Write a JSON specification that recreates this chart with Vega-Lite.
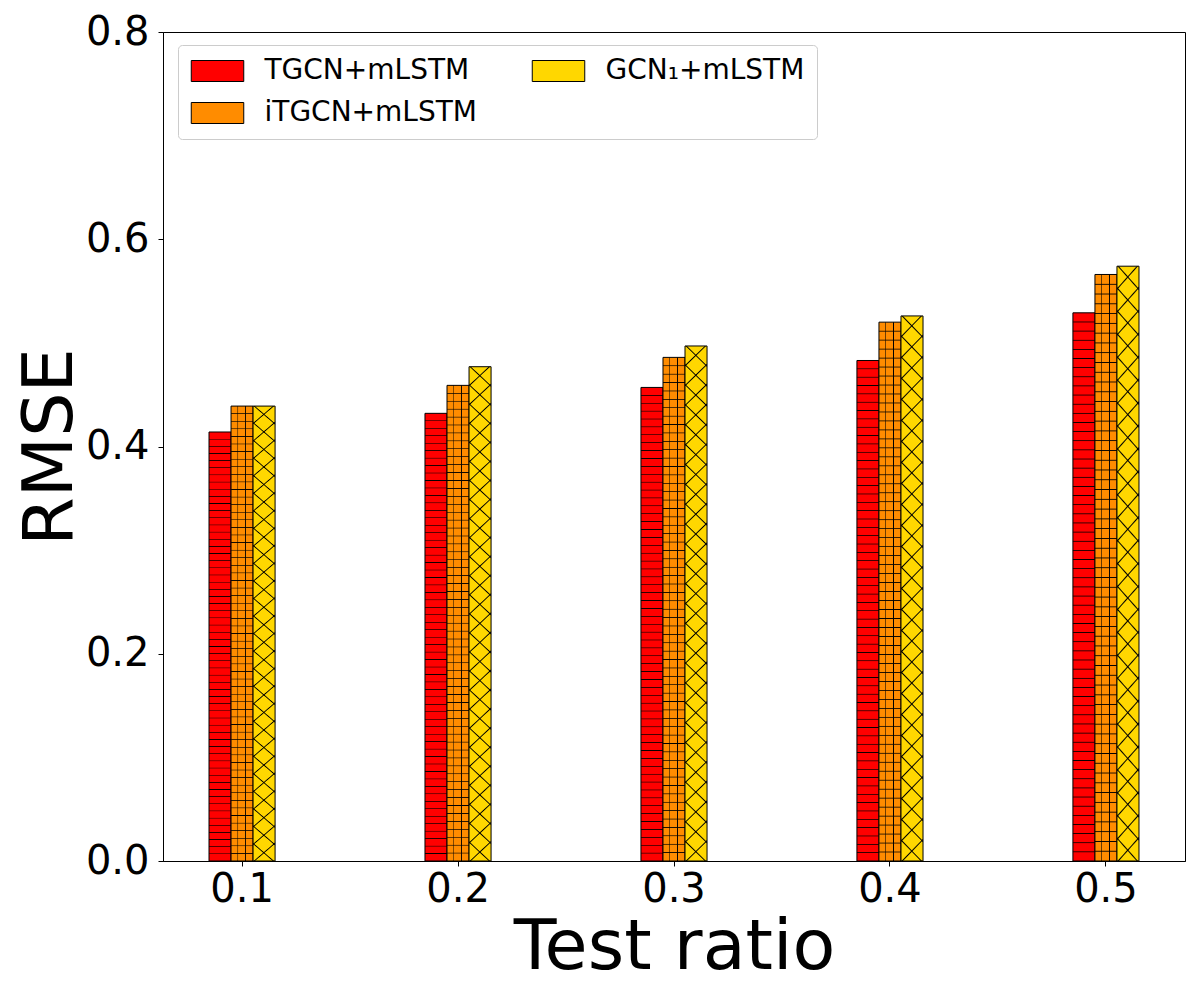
{
  "$schema": "https://vega.github.io/schema/vega-lite/v6.json",
  "width": 1022,
  "height": 829,
  "autosize": {"type": "none"},
  "padding": {"left": 163, "top": 32, "right": 15, "bottom": 139},
  "background": "white",
  "data": {
    "values": [
      {"ratio": "0.1", "model": "TGCN+mLSTM", "rmse": 0.414},
      {"ratio": "0.1", "model": "iTGCN+mLSTM", "rmse": 0.439},
      {"ratio": "0.1", "model": "GCN₁+mLSTM", "rmse": 0.439},
      {"ratio": "0.2", "model": "TGCN+mLSTM", "rmse": 0.432},
      {"ratio": "0.2", "model": "iTGCN+mLSTM", "rmse": 0.459},
      {"ratio": "0.2", "model": "GCN₁+mLSTM", "rmse": 0.477},
      {"ratio": "0.3", "model": "TGCN+mLSTM", "rmse": 0.457},
      {"ratio": "0.3", "model": "iTGCN+mLSTM", "rmse": 0.486},
      {"ratio": "0.3", "model": "GCN₁+mLSTM", "rmse": 0.497},
      {"ratio": "0.4", "model": "TGCN+mLSTM", "rmse": 0.483},
      {"ratio": "0.4", "model": "iTGCN+mLSTM", "rmse": 0.520},
      {"ratio": "0.4", "model": "GCN₁+mLSTM", "rmse": 0.526},
      {"ratio": "0.5", "model": "TGCN+mLSTM", "rmse": 0.529},
      {"ratio": "0.5", "model": "iTGCN+mLSTM", "rmse": 0.566},
      {"ratio": "0.5", "model": "GCN₁+mLSTM", "rmse": 0.574}
    ]
  },
  "encoding": {
    "x": {
      "field": "ratio",
      "type": "ordinal",
      "title": "Test ratio",
      "scale": {"paddingInner": 0.694, "paddingOuter": 0.213},
      "axis": {"labelAngle": 0, "titlePadding": 4, "labelPadding": 3}
    },
    "xOffset": {
      "field": "model",
      "type": "nominal",
      "scale": {"domain": ["TGCN+mLSTM", "iTGCN+mLSTM", "GCN₁+mLSTM"], "paddingInner": 0, "paddingOuter": 0}
    },
    "y": {
      "field": "rmse",
      "type": "quantitative",
      "title": "RMSE",
      "scale": {"domain": [0, 0.8]},
      "axis": {"values": [0, 0.2, 0.4, 0.6, 0.8], "format": ".1f", "titlePadding": -1, "labelPadding": 9}
    }
  },
  "layer": [
    {
      "mark": {"type": "bar", "stroke": "black", "strokeWidth": 1, "opacity": 1},
      "encoding": {
        "color": {
          "field": "model",
          "type": "nominal",
          "scale": {
            "domain": ["TGCN+mLSTM", "iTGCN+mLSTM", "GCN₁+mLSTM"],
            "range": ["#ff0000", "#ff8c00", "#ffd700"]
          },
          "legend": {
            "title": null,
            "orient": "none",
            "legendX": 15,
            "legendY": 13,
            "columns": 2,
            "columnPadding": 53,
            "rowPadding": 14,
            "padding": 12,
            "labelFontSize": 28,
            "labelOffset": 33,
            "symbolOffset": 13.5,
            "symbolType": "M-2.5,-1H2.5V1H-2.5Z",
            "symbolSize": 441,
            "symbolStrokeColor": "black",
            "symbolStrokeWidth": 1,
            "symbolOpacity": 1,
            "fillColor": "white",
            "strokeColor": "#cccccc",
            "cornerRadius": 4
          }
        }
      }
    },
    {
      "transform": [{"filter": "datum.model != 'GCN₁+mLSTM'"}],
      "mark": {
        "type": "bar",
        "strokeWidth": 0,
        "fill": {
          "gradient": "linear", "x1": 0, "y1": 0, "x2": 0, "y2": 1,
          "stops": [
            {"offset": 0.0152, "color": "transparent"}, {"offset": 0.0167, "color": "black"}, {"offset": 0.0182, "color": "transparent"},
            {"offset": 0.0318, "color": "transparent"}, {"offset": 0.0333, "color": "black"}, {"offset": 0.0348, "color": "transparent"},
            {"offset": 0.0485, "color": "transparent"}, {"offset": 0.05, "color": "black"}, {"offset": 0.0515, "color": "transparent"},
            {"offset": 0.0652, "color": "transparent"}, {"offset": 0.0667, "color": "black"}, {"offset": 0.0682, "color": "transparent"},
            {"offset": 0.0818, "color": "transparent"}, {"offset": 0.0833, "color": "black"}, {"offset": 0.0848, "color": "transparent"},
            {"offset": 0.0985, "color": "transparent"}, {"offset": 0.1, "color": "black"}, {"offset": 0.1015, "color": "transparent"},
            {"offset": 0.1152, "color": "transparent"}, {"offset": 0.1167, "color": "black"}, {"offset": 0.1182, "color": "transparent"},
            {"offset": 0.1318, "color": "transparent"}, {"offset": 0.1333, "color": "black"}, {"offset": 0.1348, "color": "transparent"},
            {"offset": 0.1485, "color": "transparent"}, {"offset": 0.15, "color": "black"}, {"offset": 0.1515, "color": "transparent"},
            {"offset": 0.1652, "color": "transparent"}, {"offset": 0.1667, "color": "black"}, {"offset": 0.1682, "color": "transparent"},
            {"offset": 0.1818, "color": "transparent"}, {"offset": 0.1833, "color": "black"}, {"offset": 0.1848, "color": "transparent"},
            {"offset": 0.1985, "color": "transparent"}, {"offset": 0.2, "color": "black"}, {"offset": 0.2015, "color": "transparent"},
            {"offset": 0.2152, "color": "transparent"}, {"offset": 0.2167, "color": "black"}, {"offset": 0.2182, "color": "transparent"},
            {"offset": 0.2318, "color": "transparent"}, {"offset": 0.2333, "color": "black"}, {"offset": 0.2348, "color": "transparent"},
            {"offset": 0.2485, "color": "transparent"}, {"offset": 0.25, "color": "black"}, {"offset": 0.2515, "color": "transparent"},
            {"offset": 0.2652, "color": "transparent"}, {"offset": 0.2667, "color": "black"}, {"offset": 0.2682, "color": "transparent"},
            {"offset": 0.2818, "color": "transparent"}, {"offset": 0.2833, "color": "black"}, {"offset": 0.2848, "color": "transparent"},
            {"offset": 0.2985, "color": "transparent"}, {"offset": 0.3, "color": "black"}, {"offset": 0.3015, "color": "transparent"},
            {"offset": 0.3152, "color": "transparent"}, {"offset": 0.3167, "color": "black"}, {"offset": 0.3182, "color": "transparent"},
            {"offset": 0.3318, "color": "transparent"}, {"offset": 0.3333, "color": "black"}, {"offset": 0.3348, "color": "transparent"},
            {"offset": 0.3485, "color": "transparent"}, {"offset": 0.35, "color": "black"}, {"offset": 0.3515, "color": "transparent"},
            {"offset": 0.3652, "color": "transparent"}, {"offset": 0.3667, "color": "black"}, {"offset": 0.3682, "color": "transparent"},
            {"offset": 0.3818, "color": "transparent"}, {"offset": 0.3833, "color": "black"}, {"offset": 0.3848, "color": "transparent"},
            {"offset": 0.3985, "color": "transparent"}, {"offset": 0.4, "color": "black"}, {"offset": 0.4015, "color": "transparent"},
            {"offset": 0.4152, "color": "transparent"}, {"offset": 0.4167, "color": "black"}, {"offset": 0.4182, "color": "transparent"},
            {"offset": 0.4318, "color": "transparent"}, {"offset": 0.4333, "color": "black"}, {"offset": 0.4348, "color": "transparent"},
            {"offset": 0.4485, "color": "transparent"}, {"offset": 0.45, "color": "black"}, {"offset": 0.4515, "color": "transparent"},
            {"offset": 0.4652, "color": "transparent"}, {"offset": 0.4667, "color": "black"}, {"offset": 0.4682, "color": "transparent"},
            {"offset": 0.4818, "color": "transparent"}, {"offset": 0.4833, "color": "black"}, {"offset": 0.4848, "color": "transparent"},
            {"offset": 0.4985, "color": "transparent"}, {"offset": 0.5, "color": "black"}, {"offset": 0.5015, "color": "transparent"},
            {"offset": 0.5152, "color": "transparent"}, {"offset": 0.5167, "color": "black"}, {"offset": 0.5182, "color": "transparent"},
            {"offset": 0.5318, "color": "transparent"}, {"offset": 0.5333, "color": "black"}, {"offset": 0.5348, "color": "transparent"},
            {"offset": 0.5485, "color": "transparent"}, {"offset": 0.55, "color": "black"}, {"offset": 0.5515, "color": "transparent"},
            {"offset": 0.5652, "color": "transparent"}, {"offset": 0.5667, "color": "black"}, {"offset": 0.5682, "color": "transparent"},
            {"offset": 0.5818, "color": "transparent"}, {"offset": 0.5833, "color": "black"}, {"offset": 0.5848, "color": "transparent"},
            {"offset": 0.5985, "color": "transparent"}, {"offset": 0.6, "color": "black"}, {"offset": 0.6015, "color": "transparent"},
            {"offset": 0.6152, "color": "transparent"}, {"offset": 0.6167, "color": "black"}, {"offset": 0.6182, "color": "transparent"},
            {"offset": 0.6318, "color": "transparent"}, {"offset": 0.6333, "color": "black"}, {"offset": 0.6348, "color": "transparent"},
            {"offset": 0.6485, "color": "transparent"}, {"offset": 0.65, "color": "black"}, {"offset": 0.6515, "color": "transparent"},
            {"offset": 0.6652, "color": "transparent"}, {"offset": 0.6667, "color": "black"}, {"offset": 0.6682, "color": "transparent"},
            {"offset": 0.6818, "color": "transparent"}, {"offset": 0.6833, "color": "black"}, {"offset": 0.6848, "color": "transparent"},
            {"offset": 0.6985, "color": "transparent"}, {"offset": 0.7, "color": "black"}, {"offset": 0.7015, "color": "transparent"},
            {"offset": 0.7152, "color": "transparent"}, {"offset": 0.7167, "color": "black"}, {"offset": 0.7182, "color": "transparent"},
            {"offset": 0.7318, "color": "transparent"}, {"offset": 0.7333, "color": "black"}, {"offset": 0.7348, "color": "transparent"},
            {"offset": 0.7485, "color": "transparent"}, {"offset": 0.75, "color": "black"}, {"offset": 0.7515, "color": "transparent"},
            {"offset": 0.7652, "color": "transparent"}, {"offset": 0.7667, "color": "black"}, {"offset": 0.7682, "color": "transparent"},
            {"offset": 0.7818, "color": "transparent"}, {"offset": 0.7833, "color": "black"}, {"offset": 0.7848, "color": "transparent"},
            {"offset": 0.7985, "color": "transparent"}, {"offset": 0.8, "color": "black"}, {"offset": 0.8015, "color": "transparent"},
            {"offset": 0.8152, "color": "transparent"}, {"offset": 0.8167, "color": "black"}, {"offset": 0.8182, "color": "transparent"},
            {"offset": 0.8318, "color": "transparent"}, {"offset": 0.8333, "color": "black"}, {"offset": 0.8348, "color": "transparent"},
            {"offset": 0.8485, "color": "transparent"}, {"offset": 0.85, "color": "black"}, {"offset": 0.8515, "color": "transparent"},
            {"offset": 0.8652, "color": "transparent"}, {"offset": 0.8667, "color": "black"}, {"offset": 0.8682, "color": "transparent"},
            {"offset": 0.8818, "color": "transparent"}, {"offset": 0.8833, "color": "black"}, {"offset": 0.8848, "color": "transparent"},
            {"offset": 0.8985, "color": "transparent"}, {"offset": 0.9, "color": "black"}, {"offset": 0.9015, "color": "transparent"},
            {"offset": 0.9152, "color": "transparent"}, {"offset": 0.9167, "color": "black"}, {"offset": 0.9182, "color": "transparent"},
            {"offset": 0.9318, "color": "transparent"}, {"offset": 0.9333, "color": "black"}, {"offset": 0.9348, "color": "transparent"},
            {"offset": 0.9485, "color": "transparent"}, {"offset": 0.95, "color": "black"}, {"offset": 0.9515, "color": "transparent"},
            {"offset": 0.9652, "color": "transparent"}, {"offset": 0.9667, "color": "black"}, {"offset": 0.9682, "color": "transparent"},
            {"offset": 0.9818, "color": "transparent"}, {"offset": 0.9833, "color": "black"}, {"offset": 0.9848, "color": "transparent"}
          ]
        }
      }
    },
    {
      "transform": [{"filter": "datum.model == 'iTGCN+mLSTM'"}],
      "mark": {
        "type": "bar",
        "strokeWidth": 0,
        "fill": {
          "gradient": "linear", "x1": 0, "y1": 0, "x2": 1, "y2": 0,
          "stops": [
            {"offset": 0.28, "color": "transparent"}, {"offset": 0.31, "color": "black"}, {"offset": 0.34, "color": "transparent"},
            {"offset": 0.63, "color": "transparent"}, {"offset": 0.66, "color": "black"}, {"offset": 0.69, "color": "transparent"}
          ]
        }
      }
    },
    {
      "transform": [{"filter": "datum.model == 'GCN₁+mLSTM'"}],
      "mark": {
        "type": "bar",
        "strokeWidth": 0,
        "fill": {
          "gradient": "linear", "x1": 0, "y1": 0, "x2": 0.0433, "y2": 1.04,
          "stops": [
            {"offset": 0.0345, "color": "transparent"}, {"offset": 0.037, "color": "black"}, {"offset": 0.0395, "color": "transparent"},
            {"offset": 0.0715, "color": "transparent"}, {"offset": 0.074, "color": "black"}, {"offset": 0.0765, "color": "transparent"},
            {"offset": 0.1085, "color": "transparent"}, {"offset": 0.111, "color": "black"}, {"offset": 0.1135, "color": "transparent"},
            {"offset": 0.1455, "color": "transparent"}, {"offset": 0.148, "color": "black"}, {"offset": 0.1505, "color": "transparent"},
            {"offset": 0.1825, "color": "transparent"}, {"offset": 0.185, "color": "black"}, {"offset": 0.1875, "color": "transparent"},
            {"offset": 0.2195, "color": "transparent"}, {"offset": 0.222, "color": "black"}, {"offset": 0.2245, "color": "transparent"},
            {"offset": 0.2565, "color": "transparent"}, {"offset": 0.259, "color": "black"}, {"offset": 0.2615, "color": "transparent"},
            {"offset": 0.2935, "color": "transparent"}, {"offset": 0.296, "color": "black"}, {"offset": 0.2985, "color": "transparent"},
            {"offset": 0.3305, "color": "transparent"}, {"offset": 0.333, "color": "black"}, {"offset": 0.3355, "color": "transparent"},
            {"offset": 0.3675, "color": "transparent"}, {"offset": 0.37, "color": "black"}, {"offset": 0.3725, "color": "transparent"},
            {"offset": 0.4045, "color": "transparent"}, {"offset": 0.407, "color": "black"}, {"offset": 0.4095, "color": "transparent"},
            {"offset": 0.4415, "color": "transparent"}, {"offset": 0.444, "color": "black"}, {"offset": 0.4465, "color": "transparent"},
            {"offset": 0.4785, "color": "transparent"}, {"offset": 0.481, "color": "black"}, {"offset": 0.4835, "color": "transparent"},
            {"offset": 0.5155, "color": "transparent"}, {"offset": 0.518, "color": "black"}, {"offset": 0.5205, "color": "transparent"},
            {"offset": 0.5525, "color": "transparent"}, {"offset": 0.555, "color": "black"}, {"offset": 0.5575, "color": "transparent"},
            {"offset": 0.5895, "color": "transparent"}, {"offset": 0.592, "color": "black"}, {"offset": 0.5945, "color": "transparent"},
            {"offset": 0.6265, "color": "transparent"}, {"offset": 0.629, "color": "black"}, {"offset": 0.6315, "color": "transparent"},
            {"offset": 0.6635, "color": "transparent"}, {"offset": 0.666, "color": "black"}, {"offset": 0.6685, "color": "transparent"},
            {"offset": 0.7005, "color": "transparent"}, {"offset": 0.703, "color": "black"}, {"offset": 0.7055, "color": "transparent"},
            {"offset": 0.7375, "color": "transparent"}, {"offset": 0.74, "color": "black"}, {"offset": 0.7425, "color": "transparent"},
            {"offset": 0.7745, "color": "transparent"}, {"offset": 0.777, "color": "black"}, {"offset": 0.7795, "color": "transparent"},
            {"offset": 0.8115, "color": "transparent"}, {"offset": 0.814, "color": "black"}, {"offset": 0.8165, "color": "transparent"},
            {"offset": 0.8485, "color": "transparent"}, {"offset": 0.851, "color": "black"}, {"offset": 0.8535, "color": "transparent"},
            {"offset": 0.8855, "color": "transparent"}, {"offset": 0.888, "color": "black"}, {"offset": 0.8905, "color": "transparent"},
            {"offset": 0.9225, "color": "transparent"}, {"offset": 0.925, "color": "black"}, {"offset": 0.9275, "color": "transparent"},
            {"offset": 0.9595, "color": "transparent"}, {"offset": 0.962, "color": "black"}, {"offset": 0.9645, "color": "transparent"}
          ]
        }
      }
    },
    {
      "transform": [{"filter": "datum.model == 'GCN₁+mLSTM'"}],
      "mark": {
        "type": "bar",
        "strokeWidth": 0,
        "fill": {
          "gradient": "linear", "x1": 0, "y1": 1, "x2": 0.0433, "y2": -0.04,
          "stops": [
            {"offset": 0.0345, "color": "transparent"}, {"offset": 0.037, "color": "black"}, {"offset": 0.0395, "color": "transparent"},
            {"offset": 0.0715, "color": "transparent"}, {"offset": 0.074, "color": "black"}, {"offset": 0.0765, "color": "transparent"},
            {"offset": 0.1085, "color": "transparent"}, {"offset": 0.111, "color": "black"}, {"offset": 0.1135, "color": "transparent"},
            {"offset": 0.1455, "color": "transparent"}, {"offset": 0.148, "color": "black"}, {"offset": 0.1505, "color": "transparent"},
            {"offset": 0.1825, "color": "transparent"}, {"offset": 0.185, "color": "black"}, {"offset": 0.1875, "color": "transparent"},
            {"offset": 0.2195, "color": "transparent"}, {"offset": 0.222, "color": "black"}, {"offset": 0.2245, "color": "transparent"},
            {"offset": 0.2565, "color": "transparent"}, {"offset": 0.259, "color": "black"}, {"offset": 0.2615, "color": "transparent"},
            {"offset": 0.2935, "color": "transparent"}, {"offset": 0.296, "color": "black"}, {"offset": 0.2985, "color": "transparent"},
            {"offset": 0.3305, "color": "transparent"}, {"offset": 0.333, "color": "black"}, {"offset": 0.3355, "color": "transparent"},
            {"offset": 0.3675, "color": "transparent"}, {"offset": 0.37, "color": "black"}, {"offset": 0.3725, "color": "transparent"},
            {"offset": 0.4045, "color": "transparent"}, {"offset": 0.407, "color": "black"}, {"offset": 0.4095, "color": "transparent"},
            {"offset": 0.4415, "color": "transparent"}, {"offset": 0.444, "color": "black"}, {"offset": 0.4465, "color": "transparent"},
            {"offset": 0.4785, "color": "transparent"}, {"offset": 0.481, "color": "black"}, {"offset": 0.4835, "color": "transparent"},
            {"offset": 0.5155, "color": "transparent"}, {"offset": 0.518, "color": "black"}, {"offset": 0.5205, "color": "transparent"},
            {"offset": 0.5525, "color": "transparent"}, {"offset": 0.555, "color": "black"}, {"offset": 0.5575, "color": "transparent"},
            {"offset": 0.5895, "color": "transparent"}, {"offset": 0.592, "color": "black"}, {"offset": 0.5945, "color": "transparent"},
            {"offset": 0.6265, "color": "transparent"}, {"offset": 0.629, "color": "black"}, {"offset": 0.6315, "color": "transparent"},
            {"offset": 0.6635, "color": "transparent"}, {"offset": 0.666, "color": "black"}, {"offset": 0.6685, "color": "transparent"},
            {"offset": 0.7005, "color": "transparent"}, {"offset": 0.703, "color": "black"}, {"offset": 0.7055, "color": "transparent"},
            {"offset": 0.7375, "color": "transparent"}, {"offset": 0.74, "color": "black"}, {"offset": 0.7425, "color": "transparent"},
            {"offset": 0.7745, "color": "transparent"}, {"offset": 0.777, "color": "black"}, {"offset": 0.7795, "color": "transparent"},
            {"offset": 0.8115, "color": "transparent"}, {"offset": 0.814, "color": "black"}, {"offset": 0.8165, "color": "transparent"},
            {"offset": 0.8485, "color": "transparent"}, {"offset": 0.851, "color": "black"}, {"offset": 0.8535, "color": "transparent"},
            {"offset": 0.8855, "color": "transparent"}, {"offset": 0.888, "color": "black"}, {"offset": 0.8905, "color": "transparent"},
            {"offset": 0.9225, "color": "transparent"}, {"offset": 0.925, "color": "black"}, {"offset": 0.9275, "color": "transparent"},
            {"offset": 0.9595, "color": "transparent"}, {"offset": 0.962, "color": "black"}, {"offset": 0.9645, "color": "transparent"}
          ]
        }
      }
    }
  ],
  "config": {
    "font": "DejaVu Sans",
    "view": {"stroke": "black", "strokeWidth": 1},
    "axis": {
      "grid": false,
      "domainColor": "black",
      "tickColor": "black",
      "tickSize": 5,
      "labelFontSize": 40,
      "labelColor": "black",
      "labelFont": "DejaVu Sans",
      "titleFontSize": 70,
      "titleFont": "DejaVu Sans",
      "titleFontWeight": "normal",
      "titleColor": "black"
    },
    "legend": {"labelFont": "DejaVu Sans", "labelColor": "black", "labelLimit": 400}
  }
}
